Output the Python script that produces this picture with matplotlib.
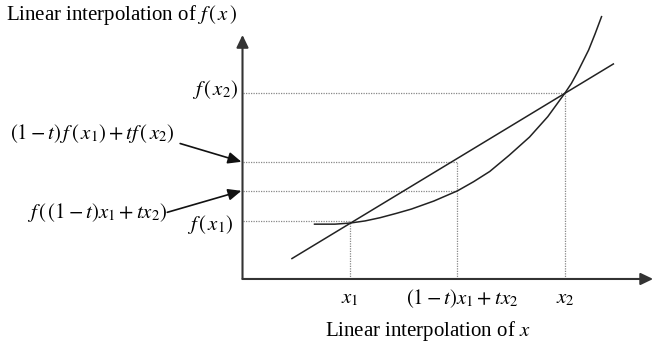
import matplotlib
matplotlib.use("Agg")
import matplotlib.pyplot as plt

plt.rcParams['font.family'] = ['Liberation Serif', 'DejaVu Serif']
plt.rcParams['mathtext.fontset'] = 'stix'

# points (x1 = 1, x2 = 3, t = 0.5)
x1, xm, x2 = 1.0, 2.0, 3.0
fx1, fxm, chord_m, fx2 = 0.54, 0.82, 1.09, 1.73

curve_x = [0.67, 0.86, 1.0, 1.14, 1.28, 1.43, 1.57, 1.78, 2.0, 2.15, 2.30,
           2.48, 2.67, 2.84, 3.0, 3.06, 3.12, 3.22, 3.28, 3.34]
curve_y = [0.51, 0.51, 0.52, 0.54, 0.57, 0.61, 0.65, 0.725, 0.82, 0.905, 1.0,
           1.15, 1.32, 1.51, 1.73, 1.82, 1.93, 2.13, 2.28, 2.44]
line_x = [0.46, 3.45]
line_y = [0.19, 2.0]

x_top, y_top = 3.82, 2.27

fig = plt.figure(figsize=(6.57, 3.48), dpi=100)
ax = fig.add_axes([0, 0, 1, 1])
ax.set_xlim(-2.256, 3.856)
ax.set_ylim(-0.642, 2.595)
ax.axis('off')

axis_col = '#333333'
ax.annotate('', xy=(x_top, 0), xytext=(0, 0),
            arrowprops=dict(arrowstyle='-|>,head_length=0.75,head_width=0.36',
                            mutation_scale=10, color=axis_col, lw=1.5,
                            shrinkA=0, shrinkB=0))
ax.annotate('', xy=(0, y_top), xytext=(0, 0),
            arrowprops=dict(arrowstyle='-|>,head_length=0.75,head_width=0.36',
                            mutation_scale=10, color=axis_col, lw=1.5,
                            shrinkA=0, shrinkB=0))

dot = dict(color='#888888', lw=0.9, ls=(0, (1, 1)))
ax.plot([0, x1], [fx1, fx1], **dot)
ax.plot([x1, x1], [0, fx1], **dot)
ax.plot([0, xm], [fxm, fxm], **dot)
ax.plot([0, xm], [chord_m, chord_m], **dot)
ax.plot([xm, xm], [0, chord_m], **dot)
ax.plot([0, x2], [fx2, fx2], **dot)
ax.plot([x2, x2], [0, fx2], **dot)

ax.plot(curve_x, curve_y, color='#222222', lw=1.1)
ax.plot(line_x, line_y, color='#222222', lw=1.1)

fs = 15
ax.text(-2.2, 2.409, r'Linear interpolation of $f\,\left(\,x\,\right)$',
        fontsize=fs, va='baseline', ha='left')
ax.text(1.72, -0.484, r'Linear interpolation of $x$', fontsize=fs,
        va='center', ha='center')

ax.text(x1, -0.18, r'$x_1$', fontsize=fs, ha='center', va='center')
ax.text(2.04, -0.18, r'$(1-t)x_1+tx_2$', fontsize=fs, ha='center', va='center')
ax.text(x2, -0.18, r'$x_2$', fontsize=fs, ha='center', va='center')

ax.text(-0.04, 1.76, r'$f\,(\,x_2)$', fontsize=fs, ha='right', va='center')
ax.text(-0.09, 0.51, r'$f\,(\,x_1)$', fontsize=fs, ha='right', va='center')
ax.text(-2.163, 1.35,
        r'$(1-t)\,f\,\left(\,x_1\right)+tf\,\left(\,x_2\right)$',
        fontsize=fs, ha='left', va='center')
ax.text(-2.005, 0.62, r'$f\,\left(\,(1-t)x_1+tx_2\right)$', fontsize=fs,
        ha='left', va='center')

arr = dict(arrowstyle='-|>,head_length=0.8,head_width=0.35', mutation_scale=10,
           color='#111111', lw=1.2, shrinkA=0, shrinkB=0)
ax.annotate('', xy=(-0.01, chord_m), xytext=(-0.58, 1.26), arrowprops=arr)
ax.annotate('', xy=(-0.01, fxm), xytext=(-0.70, 0.62), arrowprops=arr)

fig.savefig('out.png', dpi=100)
